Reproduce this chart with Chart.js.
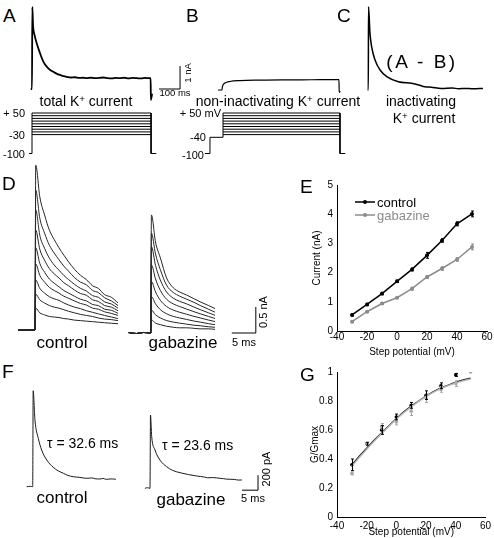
<!DOCTYPE html>
<html>
<head>
<meta charset="utf-8">
<script src="https://cdn.jsdelivr.net/npm/chart.js@4.4.1/dist/chart.umd.min.js"></script>
<style>
html, body { margin: 0; padding: 0; background: #fff; }
#fig { position: relative; width: 494px; height: 538px; overflow: hidden; font-family: "Liberation Sans", Arial, sans-serif; color: #000; }
#fig canvas { position: absolute; }
.lab { position: absolute; white-space: nowrap; line-height: 1; }
.lab sup { font-size: 0.7em; line-height: 0; vertical-align: 0.45em; }
</style>
</head>
<body>
<div id="fig"></div>
<script>
/* ---- data ---- */

// A: total K+ current (ms, nA)
var aTime    = [-6, 0, 1.5, 5, 12, 22, 38, 54, 70, 85, 101, 117, 133, 150, 165, 185, 205, 225, 243, 260, 280, 300, 320, 340, 360, 380, 400, 420, 440, 460, 480, 500, 520, 540, 555, 565, 566, 572];
var aCurrent = [0, 0, 3.57, 2.75, 2.35, 2.0, 1.56, 1.19, 0.97, 0.84, 0.75, 0.67, 0.61, 0.56, 0.53, 0.50, 0.51, 0.48, 0.49, 0.47, 0.49, 0.47, 0.48, 0.50, 0.47, 0.46, 0.48, 0.47, 0.49, 0.46, 0.48, 0.47, 0.46, 0.48, 0.47, 0.47, -0.48, -0.2];
// B: non-inactivating K+ current
var bTime    = [-19, 0, 2, 14, 38, 86, 181, 280, 380, 470, 557, 558, 563];
var bCurrent = [0, 0, 0.15, 0.30, 0.37, 0.41, 0.43, 0.44, 0.44, 0.45, 0.45, -0.1, -0.05];
// C: inactivating K+ current (A - B)
var cTime    = [-3, 0, 1, 8, 16, 32, 56, 88, 143, 206, 240, 269, 300, 348, 400, 430, 459, 500, 546];
var cCurrent = [0, 0, 3.62, 2.46, 1.88, 1.30, 0.87, 0.58, 0.36, 0.29, 0.22, 0.14, 0.12, 0.07, 0.09, 0.05, 0.07, 0.05, 0.07];

// voltage protocols (mV)
var stepLevels = [-30, -20, -10, 0, 10, 20, 30, 40, 50];
var holdLevel = -100;
var prepulseLevel = -40;
var stepDurA = 567, stepDurB = 557;

// D: control and gabazine traces, one per step (ms, nA)
var dTimeCtl = [-3.5, 0, 0.15, 1, 2, 3, 4, 5, 6, 7, 8.2, 9.5, 10.7, 12, 13.2, 14.5, 15.9, 17.3];
var dControl = [
  [0, 0, 0.42, 0.33, 0.29, 0.26, 0.25, 0.24, 0.22, 0.21, 0.19, 0.18, 0.17, 0.16, 0.15, 0.14, 0.13, 0.12],
  [0, 0, 0.69, 0.58, 0.52, 0.47, 0.44, 0.42, 0.39, 0.36, 0.33, 0.30, 0.28, 0.26, 0.23, 0.21, 0.20, 0.18],
  [0, 0, 0.96, 0.80, 0.71, 0.64, 0.60, 0.57, 0.52, 0.48, 0.44, 0.41, 0.37, 0.34, 0.31, 0.28, 0.25, 0.22],
  [0, 0, 1.27, 1.05, 0.92, 0.82, 0.76, 0.71, 0.65, 0.61, 0.56, 0.51, 0.48, 0.42, 0.40, 0.35, 0.32, 0.28],
  [0, 0, 1.58, 1.28, 1.11, 0.98, 0.90, 0.83, 0.76, 0.71, 0.65, 0.59, 0.56, 0.49, 0.47, 0.40, 0.38, 0.32],
  [0, 0, 1.92, 1.55, 1.34, 1.18, 1.08, 1.00, 0.91, 0.85, 0.77, 0.70, 0.67, 0.58, 0.55, 0.47, 0.44, 0.37],
  [0, 0, 2.31, 1.82, 1.57, 1.38, 1.25, 1.15, 1.05, 0.97, 0.88, 0.80, 0.75, 0.66, 0.63, 0.54, 0.50, 0.42],
  [0, 0, 2.69, 2.15, 1.86, 1.63, 1.48, 1.35, 1.23, 1.13, 1.01, 0.92, 0.87, 0.76, 0.72, 0.62, 0.56, 0.47],
  [0, 0, 3.17, 2.56, 2.21, 1.92, 1.74, 1.58, 1.44, 1.31, 1.17, 1.05, 0.97, 0.85, 0.80, 0.68, 0.63, 0.52]
];
var dTimeGab = [-4.7, -3, -1.5, 0, 0.15, 1, 2, 3.3, 4.7, 6, 7.5, 9, 10.3, 12, 13.4];
var dGabazine = [
  [0.01, -0.01, 0.01, 0, 0.25, 0.19, 0.16, 0.13, 0.11, 0.10, 0.10, 0.09, 0.08, 0.08, 0.07],
  [0.01, -0.01, 0.01, 0, 0.44, 0.35, 0.29, 0.24, 0.21, 0.19, 0.17, 0.15, 0.14, 0.12, 0.11],
  [0.01, -0.01, 0.01, 0, 0.70, 0.56, 0.45, 0.37, 0.32, 0.29, 0.26, 0.23, 0.21, 0.18, 0.16],
  [0.01, -0.01, 0.01, 0, 0.99, 0.79, 0.63, 0.51, 0.44, 0.40, 0.36, 0.32, 0.29, 0.25, 0.22],
  [0.01, -0.01, 0.01, 0, 1.31, 1.04, 0.82, 0.65, 0.56, 0.51, 0.46, 0.41, 0.37, 0.32, 0.28],
  [0.01, -0.01, 0.01, 0, 1.66, 1.30, 1.02, 0.79, 0.67, 0.61, 0.56, 0.50, 0.45, 0.39, 0.34],
  [0.01, -0.01, 0.01, 0, 1.92, 1.52, 1.22, 0.92, 0.78, 0.71, 0.65, 0.59, 0.53, 0.46, 0.40],
  [0.01, -0.01, 0.01, 0, 2.27, 1.75, 1.45, 1.06, 0.87, 0.79, 0.73, 0.66, 0.60, 0.53, 0.47]
];

// E: peak current vs step potential
var ePot = [-30, -20, -10, 0, 10, 20, 30, 40, 50];
var eControl = [0.55, 0.91, 1.28, 1.70, 2.11, 2.59, 3.10, 3.67, 4.01];
var eControlErr = [0.04, 0.04, 0.04, 0.04, 0.05, 0.10, 0.06, 0.07, 0.10];
var eGabazine = [0.32, 0.66, 0.94, 1.14, 1.45, 1.85, 2.14, 2.45, 2.88];
var eGabazineErr = [0.03, 0.03, 0.03, 0.03, 0.05, 0.05, 0.06, 0.06, 0.10];

// F: average inactivating traces (ms, pA)
var fTimeCtl = [-1.9, -0.8, 0, 0.15, 0.7, 1.75, 2.8, 4.4, 6.4, 8, 9.6, 11, 12.7, 14.5, 16.9, 18.5, 19.5, 21, 22, 23, 24.5, 26];
var fControl = [0, 5, 0, 1280, 889, 645, 489, 356, 259, 210, 179, 150, 133, 125, 112, 117, 106, 103, 110, 98, 104, 99];
var fTimeGab = [-1.6, -0.8, 0, 0.15, 0.53, 1.56, 3.1, 5.2, 7, 9.4, 12, 14.6, 17, 18, 19.5, 21.9, 23, 24, 26.5, 27.5, 28.7];
var fGabazine = [0, 8, 0, 977, 689, 511, 377, 288, 240, 208, 183, 164, 150, 140, 143, 133, 128, 122, 118, 110, 111];

// G: normalised conductance
var gPot = [-30, -20, -10, 0, 10, 20, 30, 40, 50];
var gControl = [0.36, 0.505, 0.60, 0.69, 0.77, 0.84, 0.905, 0.98, null];
var gControlErr = [0.04, 0.01, 0.03, 0.02, 0.02, 0.03, 0.02, 0.01, 0];
var gGabazine = [0.30, 0.505, 0.625, 0.655, 0.73, 0.82, 0.88, 0.92, 1.0];
var gGabazineErr = [0.01, 0.01, 0.02, 0.02, 0.03, 0.03, 0.02, 0.02, 0];
var gFitPot = [-30, -25, -20, -15, -10, -5, 0, 5, 10, 15, 20, 25, 30, 35, 40, 45, 50];
var gFitControl = [0.36, 0.42, 0.475, 0.53, 0.58, 0.63, 0.68, 0.725, 0.765, 0.80, 0.835, 0.865, 0.89, 0.91, 0.93, 0.945, 0.958];
var gFitGabazine = [0.35, 0.41, 0.468, 0.523, 0.575, 0.626, 0.676, 0.72, 0.76, 0.797, 0.831, 0.861, 0.886, 0.907, 0.925, 0.94, 0.952];

/* ---- helpers ---- */
var FONT = '"Liberation Sans", Arial, sans-serif';
Chart.defaults.font.family = FONT;
Chart.defaults.color = '#000';
var fig = document.getElementById('fig');

function addCanvas(box) {
  var c = document.createElement('canvas');
  c.width = box.w; c.height = box.h;
  c.style.left = box.l + 'px'; c.style.top = box.t + 'px';
  fig.appendChild(c);
  return c.getContext('2d');
}
function pts(xs, ys) {
  return xs.map(function (x, i) { return {x: x, y: ys[i]}; });
}
function trace(xs, ys, color, width, smooth) {
  return {data: pts(xs, ys), borderColor: color, borderWidth: width || 1, clip: false,
          cubicInterpolationMode: smooth ? 'monotone' : 'default'};
}
// axis-less panel; origin is where data (0,0) lands on the page, kx/ky are px per unit
function tracePanel(box, origin, kx, ky, datasets) {
  return new Chart(addCanvas(box), {
    type: 'line',
    data: {datasets: datasets},
    options: {
      responsive: false, animation: false, events: [],
      layout: {padding: 0},
      plugins: {legend: {display: false}, tooltip: {enabled: false}},
      scales: {
        x: {type: 'linear', display: false, min: (box.l - origin[0]) / kx, max: (box.l + box.w - origin[0]) / kx},
        y: {type: 'linear', display: false, min: (origin[1] - box.t - box.h) / ky, max: (origin[1] - box.t) / ky}
      },
      elements: {point: {radius: 0}, line: {borderWidth: 1, tension: 0}}
    }
  });
}
function scaleBar(x0, y0, dx, dy, color) {
  return trace([x0, x0 + dx, x0 + dx], [y0, y0, y0 + dy], color || '#000', 1);
}
function label(html, x, base, size, align) {
  var d = document.createElement('div');
  d.className = 'lab';
  d.innerHTML = html;
  d.style.fontSize = size + 'px';
  d.style.left = x + 'px';
  d.style.top = (base - 0.847 * size) + 'px';
  if (align === 'c') d.style.transform = 'translateX(-50%)';
  if (align === 'r') d.style.transform = 'translateX(-100%)';
  fig.appendChild(d);
  return d;
}
function vlabel(html, cx, cy, size) {
  var d = document.createElement('div');
  d.className = 'lab';
  d.innerHTML = html;
  d.style.fontSize = size + 'px';
  d.style.left = cx + 'px';
  d.style.top = cy + 'px';
  d.style.transform = 'translate(-50%,-50%) rotate(-90deg)';
  fig.appendChild(d);
}

var errorBars = {
  id: 'errorBars',
  afterDatasetsDraw: function (chart) {
    var c = chart.ctx, xs = chart.scales.x, ys = chart.scales.y;
    chart.data.datasets.forEach(function (ds) {
      if (!ds.errors) return;
      c.save();
      c.strokeStyle = ds.errColor || ds.borderColor;
      c.lineWidth = 1;
      ds.data.forEach(function (p, i) {
        var e = ds.errors[i];
        if (p.y == null || !e) return;
        var x = Math.round(xs.getPixelForValue(p.x)) + 0.5;
        var y1 = ys.getPixelForValue(p.y - e), y2 = ys.getPixelForValue(p.y + e);
        c.beginPath();
        c.moveTo(x, y1); c.lineTo(x, y2);
        c.moveTo(x - 1.5, y1); c.lineTo(x + 1.5, y1);
        c.moveTo(x - 1.5, y2); c.lineTo(x + 1.5, y2);
        c.stroke();
      });
      c.restore();
    });
  }
};
var lineLegend = {
  id: 'lineLegend',
  afterDraw: function (chart) {
    var a = chart.chartArea, c = chart.ctx;
    chart.data.datasets.forEach(function (ds, i) {
      if (!ds.label) return;
      var y = a.top + 17 + i * 13, x0 = a.left + 18, x1 = a.left + 38;
      c.save();
      c.strokeStyle = ds.borderColor; c.fillStyle = ds.borderColor; c.lineWidth = 1.5;
      c.beginPath(); c.moveTo(x0, y); c.lineTo(x1, y); c.stroke();
      c.beginPath(); c.arc((x0 + x1) / 2, y, 2, 0, Math.PI * 2); c.fill();
      c.font = '13px ' + FONT; c.textBaseline = 'middle';
      c.fillText(ds.label, x1 + 2, y + 1);
      c.restore();
    });
  }
};
function xyAxes(xTitle, yTitle, ymax, ystep, xh, xpad, ytitlePad) {
  var f = {family: FONT, size: 10};
  return {
    x: {type: 'linear', min: -40, max: 60,
        ticks: {stepSize: 20, color: '#000', font: f, padding: xpad},
        grid: {display: false, drawTicks: false}, border: {color: '#000', width: 1},
        title: {display: true, text: xTitle, color: '#000', font: f, padding: {top: 0, bottom: 0}},
        afterFit: function (s) { s.height = xh; }},
    y: {type: 'linear', min: 0, max: ymax,
        ticks: {stepSize: ystep, color: '#000', font: f, padding: 4,
                callback: function (v) { return String(Math.round(v * 10) / 10); }},
        grid: {display: false, drawTicks: false}, border: {color: '#000', width: 1},
        title: {display: true, text: yTitle, color: '#000', font: f, padding: {top: ytitlePad, bottom: 0}},
        afterFit: function (s) { s.width = 37; }}
  };
}

/* ---- A, B, C: currents (0.21 px/ms, 23 px/nA) ---- */
tracePanel({l: 20, t: 0, w: 180, h: 105}, [32, 89], 0.21, 23, [
  trace(aTime, aCurrent, '#000', 1.8, true),
  scaleBar(605, 0, 100, 1)
]);
tracePanel({l: 205, t: 60, w: 150, h: 45}, [222, 90], 0.21, 23, [
  trace(bTime, bCurrent, '#000', 1.2, true)
]);
tracePanel({l: 355, t: 0, w: 139, h: 100}, [368.3, 90], 0.21, 23, [
  trace(cTime, cCurrent, '#000', 1.5, true)
]);

/* ---- A, B: voltage protocols (0.27 px/mV) ---- */
function protocol(prepulse, dur) {
  var sets = [];
  var on = prepulse == null
    ? trace([-14, 0, 0], [holdLevel, holdLevel, 50], '#000', 1)
    : trace([-86, -62, -62, 0, 0], [holdLevel, holdLevel, prepulse, prepulse, 50], '#000', 1);
  sets.push(on);
  stepLevels.forEach(function (v) { sets.push(trace([0, dur], [v, v], '#000', 1)); });
  sets.push(trace([dur, dur, dur + 25], [50, holdLevel, holdLevel], '#000', 1));
  return sets;
}
tracePanel({l: 20, t: 105, w: 150, h: 55}, [32, 126.5], 0.21, 0.27, protocol(null, stepDurA));
tracePanel({l: 195, t: 105, w: 160, h: 55}, [223, 126.5], 0.21, 0.27, protocol(prepulseLevel, stepDurB));

/* ---- D: families (4.8 px/ms, 52 px/nA) ---- */
tracePanel({l: 15, t: 160, w: 110, h: 175}, [35, 330], 4.8, 52,
  dControl.map(function (ys) { return trace(dTimeCtl, ys, '#262626', 1, true); }));
tracePanel({l: 125, t: 205, w: 140, h: 132}, [150.7, 333], 4.8, 52,
  dGabazine.map(function (ys) { return trace(dTimeGab, ys, '#262626', 1, true); })
    .concat([scaleBar(16.9, 0, 5, 0.5)]));

/* ---- F: inactivating current (3.2 px/ms, 0.075 px/pA) ---- */
tracePanel({l: 25, t: 385, w: 100, h: 107}, [32.7, 486.7], 3.2, 0.075, [
  trace(fTimeCtl, fControl, '#1a1a1a', 1, true)
]);
tracePanel({l: 140, t: 405, w: 130, h: 92}, [150, 488.3], 3.2, 0.075, [
  trace(fTimeGab, fGabazine, '#1a1a1a', 1, true),
  scaleBar(28.75, -25, 5, 200)
]);

/* ---- E ---- */
new Chart(addCanvas({l: 300, t: 175, w: 194, h: 183}), {
  type: 'line',
  data: {datasets: [
    {label: 'control', data: pts(ePot, eControl), borderColor: '#000', backgroundColor: '#000',
     borderWidth: 1.5, pointRadius: 2, pointBorderWidth: 0, errors: eControlErr},
    {label: 'gabazine', data: pts(ePot, eGabazine), borderColor: '#8c8c8c', backgroundColor: '#8c8c8c',
     borderWidth: 1.5, pointRadius: 2, pointBorderWidth: 0, errors: eGabazineErr}
  ]},
  options: {
    responsive: false, animation: false, events: [],
    layout: {padding: {top: 8, right: 7, left: 0, bottom: 0}},
    plugins: {legend: {display: false}, tooltip: {enabled: false}},
    scales: xyAxes('Step potential (mV)', 'Current (nA)', 5, 1, 27, 0, 11)
  },
  plugins: [errorBars, lineLegend]
});

/* ---- G ---- */
new Chart(addCanvas({l: 300, t: 362, w: 194, h: 176}), {
  type: 'line',
  data: {datasets: [
    {data: pts(gFitPot, gFitGabazine), borderColor: '#b4b4b4', borderWidth: 1.5, pointRadius: 0},
    {data: pts(gPot, gGabazine), showLine: false, borderColor: '#a8a8a8', backgroundColor: '#a8a8a8',
     pointRadius: 1.8, pointBorderWidth: 0, errors: gGabazineErr},
    {data: pts(gFitPot, gFitControl), borderColor: '#111', borderWidth: 1.3, pointRadius: 0},
    {data: pts(gPot, gControl), showLine: false, borderColor: '#000', backgroundColor: '#000',
     pointRadius: 1.8, pointBorderWidth: 0, errors: gControlErr}
  ]},
  options: {
    responsive: false, animation: false, events: [],
    layout: {padding: {top: 8, right: 7, left: 0, bottom: 0}},
    plugins: {legend: {display: false}, tooltip: {enabled: false}},
    scales: xyAxes('Step potential (mV)', 'G/Gmax', 1, 0.2, 21, 3, 9)
  },
  plugins: [errorBars]
});

/* ---- text ---- */
label('A', 3, 22, 19);
label('B', 186, 22, 19);
label('C', 337, 22, 19);
label('D', 2, 190, 19);
label('E', 300, 193, 19);
label('F', 2, 378, 19);
label('G', 300, 381, 19);

label('total K<sup>+</sup> current', 86, 106, 14, 'c');
label('non-inactivating K<sup>+</sup> current', 278, 106, 14, 'c');
label('inactivating', 421, 106, 14, 'c');
label('K<sup>+</sup> current', 424, 123, 14, 'c');
label('(A - B)', 422, 68, 19, 'c').style.letterSpacing = '2.5px';

label('+ 50', 25, 117, 11, 'r');
label('-30', 25, 139, 11, 'r');
label('-100', 25, 158, 11, 'r');
label('+ 50 mV', 221, 117, 11, 'r');
label('-40', 206, 141, 11, 'r');
label('-100', 204, 159, 11, 'r');

vlabel('1 nA', 188, 73, 9.5);
label('100 ms', 175, 96, 9.5, 'c');

label('control', 62, 348, 17, 'c');
label('gabazine', 183, 348, 17, 'c');
label('5 ms', 244, 346, 11, 'c');
vlabel('0.5 nA', 263, 312, 11);

label('&tau; = 32.6 ms', 47, 448, 14);
label('&tau; = 23.6 ms', 162, 450, 14);
label('control', 62, 503, 17, 'c');
label('gabazine', 191, 505, 17, 'c');
label('5 ms', 253, 502, 11, 'c');
vlabel('200 pA', 266, 469, 11);
</script>
</body>
</html>
